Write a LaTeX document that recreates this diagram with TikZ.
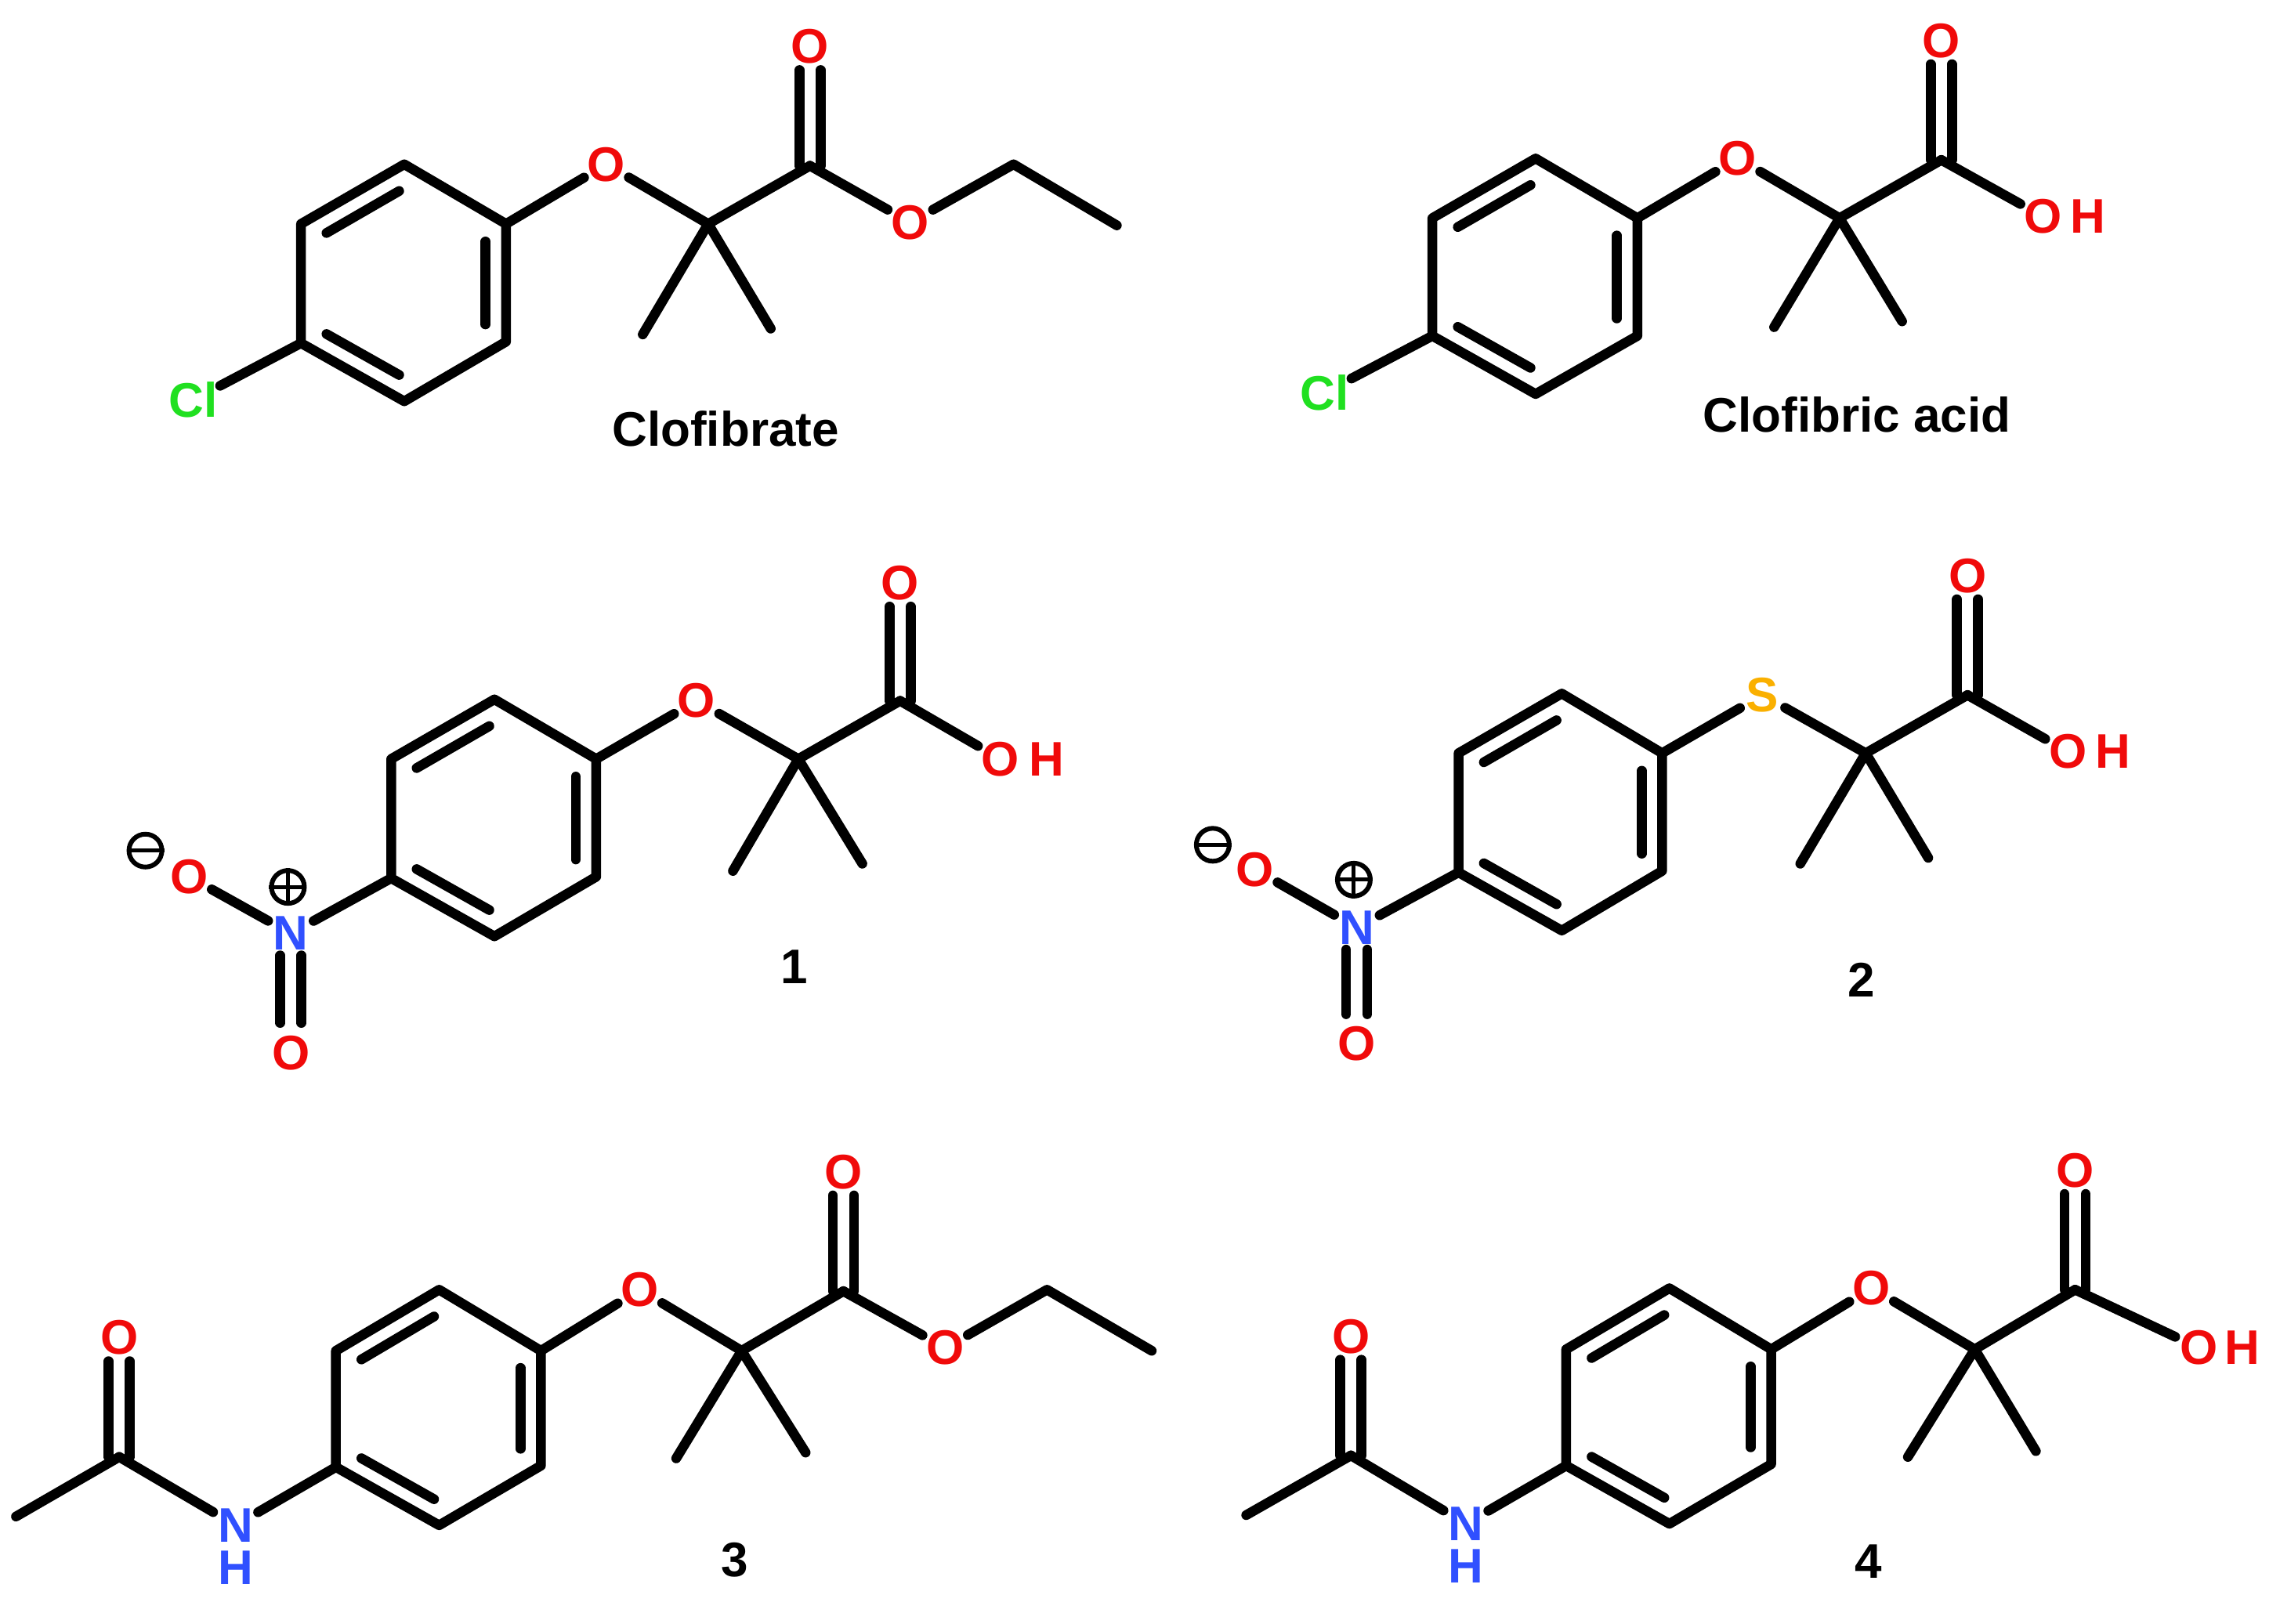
\documentclass[tikz,border=0pt]{standalone}
\usepackage{fontspec}
\setmainfont{Liberation Sans}
\usetikzlibrary{calc}
\definecolor{oxy}{RGB}{240,10,10}
\definecolor{nit}{RGB}{48,80,255}
\definecolor{chl}{RGB}{32,224,32}
\definecolor{sul}{RGB}{250,176,0}
\tikzset{
  bond/.style={line width=12.5pt,line cap=round,line join=round,black},
  atom/.style={circle,inner sep=0pt,minimum size=66pt,font=\fontsize{62}{62}\selectfont\bfseries},
  O/.style={atom,text=oxy},
  N/.style={atom,text=nit},
  Cl/.style={atom,text=chl,minimum size=70pt},
  S/.style={atom,text=sul},
  H/.style={atom,minimum size=0pt},
  title/.style={inner sep=0pt,font=\fontsize{62}{62}\selectfont\bfseries},
  charge/.style={circle,draw=black,line width=6pt,inner sep=0pt,minimum size=42pt},
  chargebar/.style={line width=5pt,black}
}
% inner aromatic line, parallel to A-B, towards ring centre R
\newcommand{\innerline}[3]{\draw[bond] ($($(#1)!.2!(#3)$)!.06!($(#2)!.2!(#3)$)$) -- ($($(#2)!.2!(#3)$)!.06!($(#1)!.2!(#3)$)$);}
% prefix, six ring points
\newcommand{\benz}[7]{%
  \coordinate (#1c1) at #2; \coordinate (#1c2) at #3; \coordinate (#1c3) at #4;
  \coordinate (#1c4) at #5; \coordinate (#1c5) at #6; \coordinate (#1c6) at #7;
  \coordinate (#1r) at ($(#1c1)!.5!(#1c4)$);
  \draw[bond] (#1c1) -- (#1c2) -- (#1c3) -- (#1c4) -- (#1c5) -- (#1c6) -- cycle;
  \innerline{#1c2}{#1c3}{#1r}
  \innerline{#1c4}{#1c5}{#1r}
  \innerline{#1c6}{#1c1}{#1r}
}
% from carbon #1 to atom node #2, vertical double bond; #3 = gap at atom, #4 = gap at start
\newcommand{\dbl}[4]{%
  \draw[bond,shorten >=#3,shorten <=#4] ([xshift=-13.5pt]#1.center) -- ([xshift=-13.5pt]#2.center);
  \draw[bond,shorten >=#3,shorten <=#4] ([xshift=13.5pt]#1.center) -- ([xshift=13.5pt]#2.center);
}
\begin{document}
\begin{tikzpicture}[x=1.856pt,y=-1.856pt]
\useasboundingbox (0,0) rectangle (1567.9,1116.9);
\fill[white] (0,0) rectangle (1567.9,1116.9);

% ---------- Clofibrate
\benz{a}{(348,154)}{(278,113)}{(207,154)}{(207,236)}{(278,276)}{(348,235)}
\node[O] (aO) at (417,113) {O};
\coordinate (aq) at (487,154);
\coordinate (am1) at (442,230);
\coordinate (am2) at (530,226);
\coordinate (aco) at (557,114);
\node[O] (aOd) at (557,32) {O};
\node[O] (aOe) at (626,153) {O};
\coordinate (ach2) at (697,113);
\coordinate (ach3) at (768,155);
\node[Cl] (aCl) at (133,275) {Cl};
\node[title] (ta) at (499,295) {Clofibrate};
\draw[bond] (ac4) -- (aCl);
\draw[bond] (ac1) -- (aO);
\draw[bond] (aO) -- (aq);
\draw[bond] (am1) -- (aq) -- (am2);
\draw[bond] (aq) -- (aco);
\draw[bond] (aco) -- (aOe);
\draw[bond] (aOe) -- (ach2) -- (ach3);
\dbl{aco}{aOd}{30pt}{0pt}

% ---------- Clofibric acid
\benz{b}{(1126,150)}{(1056,109)}{(985,150)}{(985,231)}{(1056,271)}{(1126,231)}
\node[O] (bO) at (1195,109) {O};
\coordinate (bq) at (1265,150);
\coordinate (bm1) at (1220,225);
\coordinate (bm2) at (1308,221);
\coordinate (bco) at (1335,110);
\node[O] (bOd) at (1335,28) {O};
\node[O] (bOh) at (1405,149) {O};
\node[H,text=oxy] (bH) at (1436,149) {H};
\node[Cl] (bCl) at (911,270) {Cl};
\node[title] (tb) at (1277,285) {Clofibric acid};
\draw[bond] (bc4) -- (bCl);
\draw[bond] (bc1) -- (bO);
\draw[bond] (bO) -- (bq);
\draw[bond] (bm1) -- (bq) -- (bm2);
\draw[bond] (bq) -- (bco);
\draw[bond] (bco) -- (bOh);
\dbl{bco}{bOd}{30pt}{0pt}

% ---------- 1
\benz{c}{(410,522)}{(340,481)}{(269,522)}{(269,604)}{(340,644)}{(410,603)}
\node[O] (cO) at (479,482) {O};
\coordinate (cq) at (549,522);
\coordinate (cm1) at (504,599);
\coordinate (cm2) at (593,594);
\coordinate (cco) at (619,482);
\node[O] (cOd) at (619,401) {O};
\node[O] (cOh) at (688,522) {O};
\node[H,text=oxy] (cH) at (720,522) {H};
\node[N] (cN) at (200,642) {N};
\node[O] (cOm) at (130,603) {O};
\node[O] (cOn) at (200,724) {O};
\node[charge] (cmi) at (100,585) {};
\node[charge] (cpl) at (198,610) {};
\draw[chargebar] (cmi.west) -- (cmi.east);
\draw[chargebar] (cpl.west) -- (cpl.east);
\draw[chargebar] (cpl.north) -- (cpl.south);
\node[title] (tc) at (546,665) {1};
\draw[bond] (cc4) -- (cN);
\draw[bond] (cN) -- (cOm);
\dbl{cN}{cOn}{38pt}{28pt}
\draw[bond] (cc1) -- (cO);
\draw[bond] (cO) -- (cq);
\draw[bond] (cm1) -- (cq) -- (cm2);
\draw[bond] (cq) -- (cco);
\draw[bond] (cco) -- (cOh);
\dbl{cco}{cOd}{30pt}{0pt}

% ---------- 2
\benz{d}{(1143,518)}{(1074,477)}{(1003,518)}{(1003,600)}{(1074,640)}{(1143,599)}
\node[S] (dS) at (1212,478) {S};
\coordinate (dq) at (1283,518);
\coordinate (dm1) at (1238,594);
\coordinate (dm2) at (1326,590);
\coordinate (dco) at (1353,478);
\node[O] (dOd) at (1353,396) {O};
\node[O] (dOh) at (1422,517) {O};
\node[H,text=oxy] (dH) at (1453,517) {H};
\node[N] (dN) at (933,638) {N};
\node[O] (dOm) at (863,598) {O};
\node[O] (dOn) at (933,718) {O};
\node[charge] (dmi) at (834,581) {};
\node[charge] (dpl) at (931,605) {};
\draw[chargebar] (dmi.west) -- (dmi.east);
\draw[chargebar] (dpl.west) -- (dpl.east);
\draw[chargebar] (dpl.north) -- (dpl.south);
\node[title] (td) at (1280,674) {2};
\draw[bond] (dc4) -- (dN);
\draw[bond] (dN) -- (dOm);
\dbl{dN}{dOn}{38pt}{28pt}
\draw[bond] (dc1) -- (dS);
\draw[bond] (dS) -- (dq);
\draw[bond] (dm1) -- (dq) -- (dm2);
\draw[bond] (dq) -- (dco);
\draw[bond] (dco) -- (dOh);
\dbl{dco}{dOd}{30pt}{0pt}

% ---------- 3
\benz{e}{(372,929)}{(302,887)}{(231,929)}{(231,1009)}{(302,1049)}{(372,1008)}
\node[O] (eO) at (440,887) {O};
\coordinate (eq) at (510,929);
\coordinate (em1) at (465,1003);
\coordinate (em2) at (554,999);
\coordinate (eco) at (580,888);
\node[O] (eOd) at (580,806) {O};
\node[O] (eOe) at (650,927) {O};
\coordinate (ech2) at (720,887);
\coordinate (ech3) at (792,929);
\node[N] (eN) at (162,1049) {N};
\node[H,text=nit] (eH) at (162,1078) {H};
\coordinate (eac) at (82,1002);
\node[O] (eOa) at (82,920) {O};
\coordinate (eme) at (11,1043);
\node[title] (te) at (505,1073) {3};
\draw[bond] (ec4) -- (eN);
\draw[bond] (eN) -- (eac);
\draw[bond] (eac) -- (eme);
\dbl{eac}{eOa}{30pt}{0pt}
\draw[bond] (ec1) -- (eO);
\draw[bond] (eO) -- (eq);
\draw[bond] (em1) -- (eq) -- (em2);
\draw[bond] (eq) -- (eco);
\draw[bond] (eco) -- (eOe);
\draw[bond] (eOe) -- (ech2) -- (ech3);
\dbl{eco}{eOd}{30pt}{0pt}

% ---------- 4
\benz{f}{(1218,928)}{(1148,886)}{(1077,928)}{(1077,1008)}{(1148,1048)}{(1218,1007)}
\node[O] (fO) at (1287,886) {O};
\coordinate (fq) at (1358,928);
\coordinate (fm1) at (1312,1002);
\coordinate (fm2) at (1400,998);
\coordinate (fco) at (1427,887);
\node[O] (fOd) at (1427,805) {O};
\node[O] (fOh) at (1512,927) {O};
\node[H,text=oxy] (fH) at (1542,927) {H};
\node[N] (fN) at (1008,1048) {N};
\node[H,text=nit] (fHn) at (1008,1077) {H};
\coordinate (fac) at (929,1001);
\node[O] (fOa) at (929,919) {O};
\coordinate (fme) at (857,1042);
\node[title] (tf) at (1285,1074) {4};
\draw[bond] (fc4) -- (fN);
\draw[bond] (fN) -- (fac);
\draw[bond] (fac) -- (fme);
\dbl{fac}{fOa}{30pt}{0pt}
\draw[bond] (fc1) -- (fO);
\draw[bond] (fO) -- (fq);
\draw[bond] (fm1) -- (fq) -- (fm2);
\draw[bond] (fq) -- (fco);
\draw[bond] (fco) -- (fOh);
\dbl{fco}{fOd}{30pt}{0pt}
\end{tikzpicture}
\end{document}
